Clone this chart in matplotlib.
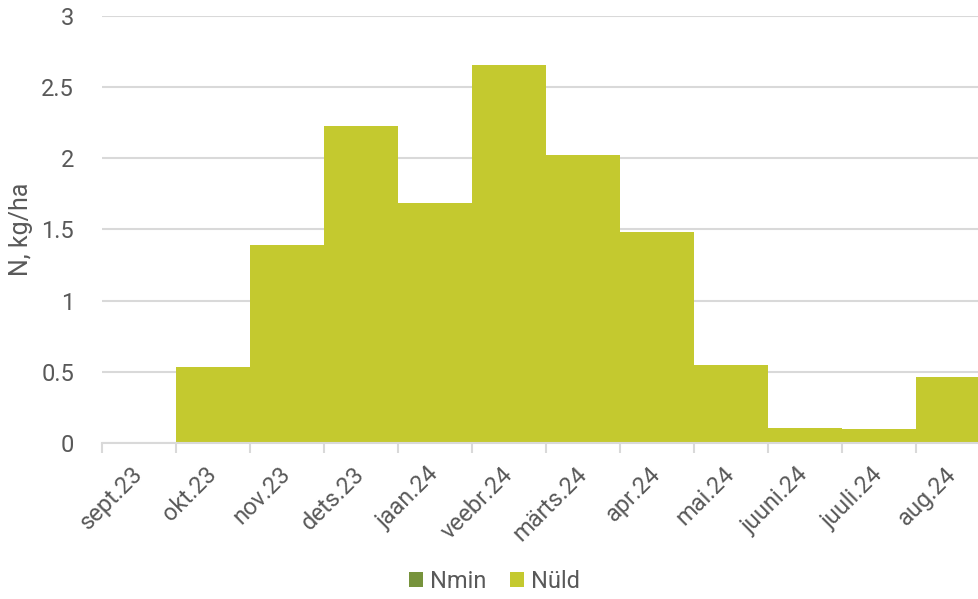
import matplotlib
matplotlib.use("Agg")
import matplotlib.pyplot as plt
import numpy as np

months = ["sept.23", "okt.23", "nov.23", "dets.23", "jaan.24", "veebr.24",
          "märts.24", "apr.24", "mai.24", "juuni.24", "juuli.24", "aug.24"]
nmin = [0, 0, 0, 0, 0, 0, 0, 0, 0, 0, 0, 0]
nuld = [0, 0.535, 1.39, 2.23, 1.685, 2.655, 2.02, 1.48, 0.545, 0.103, 0.096, 0.465]

plt.rcParams['font.family'] = ['Roboto', 'DejaVu Sans']
TXT = "#595959"
GRID = "#D9D9D9"

fig = plt.figure(figsize=(9.79, 5.99), dpi=100)
# axis runs a bit past the right edge, as in the original
ax = fig.add_axes([102 / 979, 156 / 599, 888 / 979, 427 / 599])

edges = np.arange(len(months) + 1) - 0.5
nmin_a = np.array(nmin)
total = nmin_a + np.array(nuld)
ax.stairs(nmin_a, edges, fill=True, color="#77933C", label="Nmin", lw=0)
ax.stairs(total, edges, baseline=nmin_a, fill=True, color="#C4C92F", label="Nüld", lw=0)

ax.set_xlim(-0.5, len(months) - 0.5)
ax.set_ylim(0, 3)
ax.set_yticks(np.arange(0, 3.01, 0.5))
ax.set_yticklabels(["0", "0.5", "1", "1.5", "2", "2.5", "3"])
ax.yaxis.grid(True, color=GRID, lw=1.5)
ax.set_axisbelow(True)

ax.set_xticks(edges, minor=True)
ax.set_xticks(np.arange(len(months)))
ax.set_xticklabels(months, rotation=45, ha="right", va="center", rotation_mode="anchor")
ax.tick_params(axis="x", which="major", length=0, pad=20, labelsize=17, labelcolor=TXT)
ax.tick_params(axis="x", which="minor", length=7, width=1.5, color=GRID)
ax.tick_params(axis="y", length=0, pad=20, labelsize=17, labelcolor=TXT)

for s in ["top", "right", "left"]:
    ax.spines[s].set_visible(False)
ax.spines["bottom"].set_color(GRID)
ax.spines["bottom"].set_linewidth(1.5)

ax.set_ylabel("N, kg/ha", fontsize=18, color=TXT, labelpad=6)

fig.legend(loc="lower center", bbox_to_anchor=(0.505, -0.025), ncol=2, frameon=False,
           fontsize=17, labelcolor=TXT, handlelength=0.6, handleheight=0.6,
           handletextpad=0.3, columnspacing=1.0)

fig.savefig("out.png", dpi=100)
